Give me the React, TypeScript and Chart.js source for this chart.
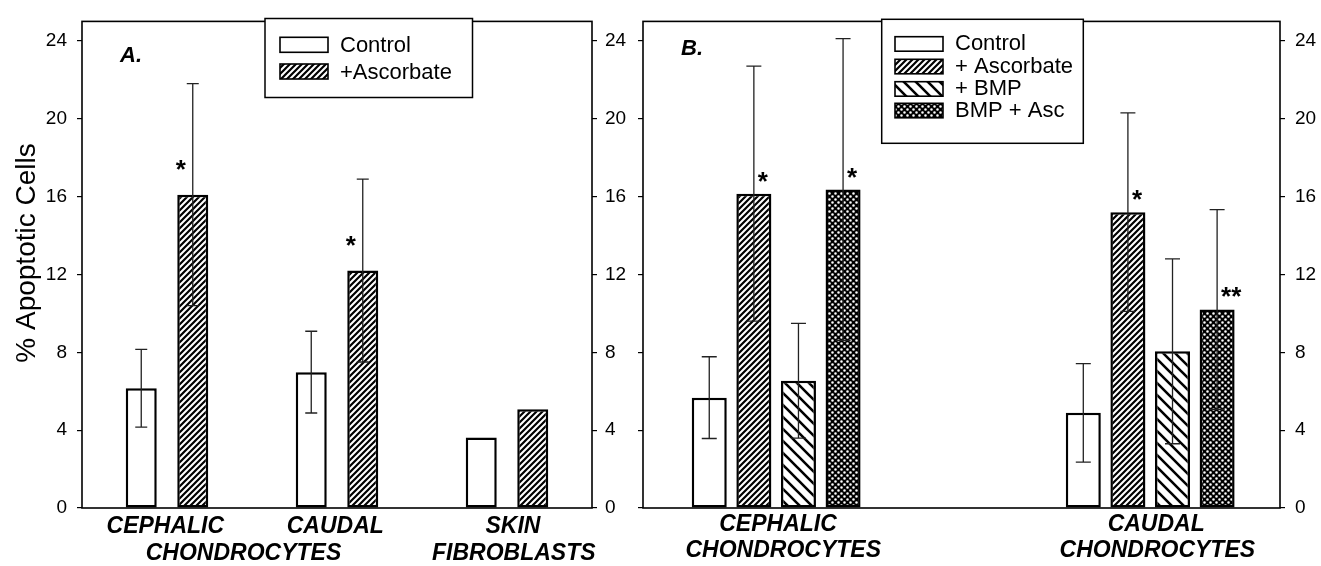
import React, { useEffect, useRef } from "react";
import { Chart, registerables } from "chart.js";

Chart.register(...registerables);

const FONT = "'Liberation Sans', Arial, Helvetica, sans-serif";

// ---------------- DATA ----------------
const yTickValues = [0, 4, 8, 12, 16, 20, 24];

// Panel A
const categoriesA = ["CEPHALIC", "CAUDAL", "SKIN"];
const subCategoriesA = ["CHONDROCYTES", "FIBROBLASTS"];
const seriesNamesA = ["Control", "+Ascorbate"];
const controlA = [6.15, 6.98, 3.62];
const controlErrA = [2.0, 2.1, 0];
const ascorbateA = [16.1, 12.2, 5.07];
const ascorbateErrA = [5.7, 4.7, 0];
const controlStarsA = ["", "", ""];
const ascorbateStarsA = ["*", "*", ""];

// Panel B
const categoriesB = ["CEPHALIC", "CAUDAL"];
const subCategoriesB = ["CHONDROCYTES", "CHONDROCYTES"];
const seriesNamesB = ["Control", "+ Ascorbate", "+ BMP", "BMP + Asc"];
const controlB = [5.67, 4.89];
const controlErrB = [2.1, 2.53];
const ascorbateB = [16.15, 15.2];
const ascorbateErrB = [6.55, 5.1];
const bmpB = [6.54, 8.05];
const bmpErrB = [2.95, 4.75];
const bmpAscB = [16.36, 10.2];
const bmpAscErrB = [7.75, 5.13];
const controlStarsB = ["", ""];
const ascorbateStarsB = ["*", "*"];
const bmpStarsB = ["", ""];
const bmpAscStarsB = ["*", "**"];

// ---------------- PATTERNS ----------------
type PatternKind = "plain" | "fwd" | "back" | "dots";

function makeFill(kind: PatternKind): string | CanvasPattern {
  if (kind === "plain") return "#ffffff";
  const c = document.createElement("canvas");
  const g = c.getContext("2d")!;
  if (kind === "fwd") {
    const s = 6;
    c.width = s;
    c.height = s;
    g.fillStyle = "#fff";
    g.fillRect(0, 0, s, s);
    g.strokeStyle = "#000";
    g.lineWidth = 2.2;
    g.beginPath();
    g.moveTo(-1, s + 1);
    g.lineTo(s + 1, -1);
    g.moveTo(-2, 2);
    g.lineTo(2, -2);
    g.moveTo(s - 2, s + 2);
    g.lineTo(s + 2, s - 2);
    g.stroke();
  } else if (kind === "back") {
    const s = 12;
    c.width = s;
    c.height = s;
    g.fillStyle = "#fff";
    g.fillRect(0, 0, s, s);
    g.strokeStyle = "#000";
    g.lineWidth = 2.6;
    g.beginPath();
    g.moveTo(-1, -1);
    g.lineTo(s + 1, s + 1);
    g.moveTo(s - 2, -2);
    g.lineTo(s + 2, 2);
    g.moveTo(-2, s - 2);
    g.lineTo(2, s + 2);
    g.stroke();
  } else {
    const s = 6;
    c.width = s;
    c.height = s;
    g.fillStyle = "#000";
    g.fillRect(0, 0, s, s);
    g.fillStyle = "#fff";
    g.beginPath();
    g.arc(1.5, 1.5, 1.3, 0, Math.PI * 2);
    g.closePath();
    g.moveTo(5.8, 4.5);
    g.arc(4.5, 4.5, 1.3, 0, Math.PI * 2);
    g.fill();
  }
  return g.createPattern(c, "repeat")!;
}

// ---------------- SPECS ----------------
interface Series {
  name: string;
  values: number[];
  errs: number[];
  stars: string[];
  kind: PatternKind;
}

interface PanelSpec {
  left: number;
  width: number;
  area: { left: number; right: number; top: number; bottom: number };
  xMode: "category" | "linear";
  xMin?: number;
  xMax?: number;
  categories: string[];
  catAnchors: number[];
  sub: { text: string; at: number }[];
  series: Series[];
  categoryPercentage: number;
  barPercentage: number;
  cap: number;
  starSide: "left" | "right";
  starRise: number;
  leftLabels: boolean;
  rightPad: number;
  legend: {
    x: number; y: number; w: number; h: number;
    swX: number; swW: number; swH: number;
    rows: number[]; textX: number; textDy: number;
  };
  title: { text: string; x: number; y: number };
  yTitle?: { text: string; x: number; y: number };
  lines: [number, number];
}

const specA: PanelSpec = {
  left: 0,
  width: 630,
  area: { left: 82, right: 592, top: 14, bottom: 508 },
  xMode: "category",
  categories: categoriesA,
  catAnchors: [-0.01, 0.99, 2.035],
  sub: [
    { text: subCategoriesA[0], at: 0.45 },
    { text: subCategoriesA[1], at: 2.04 },
  ],
  series: [
    { name: seriesNamesA[0], values: controlA, errs: controlErrA, stars: controlStarsA, kind: "plain" },
    { name: seriesNamesA[1], values: ascorbateA, errs: ascorbateErrA, stars: ascorbateStarsA, kind: "fwd" },
  ],
  categoryPercentage: 0.606,
  barPercentage: 0.602,
  cap: 12,
  starSide: "left",
  starRise: 32,
  leftLabels: true,
  rightPad: 8,
  legend: { x: 265, y: 18.5, w: 207.5, h: 79, swX: 280, swW: 48, swH: 15, rows: [37.3, 64], textX: 340, textDy: 14.5 },
  title: { text: "A.", x: 120, y: 61.5 },
  yTitle: { text: "% Apoptotic Cells", x: 35, y: 253 },
  lines: [533, 560],
};

const specB: PanelSpec = {
  left: 630,
  width: 691,
  area: { left: 643, right: 1280, top: 14, bottom: 508 },
  xMode: "linear",
  xMin: 0.644,
  xMax: 2.347,
  categories: categoriesB,
  catAnchors: [1.005, 2.016],
  sub: [
    { text: subCategoriesB[0], at: 1.019 },
    { text: subCategoriesB[1], at: 2.019 },
  ],
  series: [
    { name: seriesNamesB[0], values: controlB, errs: controlErrB, stars: controlStarsB, kind: "plain" },
    { name: seriesNamesB[1], values: ascorbateB, errs: ascorbateErrB, stars: ascorbateStarsB, kind: "fwd" },
    { name: seriesNamesB[2], values: bmpB, errs: bmpErrB, stars: bmpStarsB, kind: "back" },
    { name: seriesNamesB[3], values: bmpAscB, errs: bmpAscErrB, stars: bmpAscStarsB, kind: "dots" },
  ],
  categoryPercentage: 0.477,
  barPercentage: 0.785,
  cap: 15,
  starSide: "right",
  starRise: 19,
  leftLabels: false,
  rightPad: 10,
  legend: { x: 881.7, y: 19.3, w: 201.6, h: 124, swX: 895, swW: 48, swH: 14.5, rows: [36.7, 59.3, 81.7, 103.3], textX: 955, textDy: 13.5 },
  title: { text: "B.", x: 681, y: 55 },
  lines: [531, 557],
};

// ---------------- BUILDER ----------------
function yAxis(position: "left" | "right", showLabels: boolean, width: number, pad: number) {
  return {
    type: "linear",
    position,
    min: 0,
    max: 25,
    afterBuildTicks: (s: any) => {
      s.ticks = yTickValues.map((v) => ({ value: v }));
    },
    afterFit: (s: any) => {
      s.width = width;
    },
    ticks: {
      color: showLabels ? "#000" : "rgba(0,0,0,0)",
      font: { size: 19, family: FONT },
      padding: pad,
    },
    grid: {
      display: true,
      drawOnChartArea: false,
      drawTicks: true,
      tickLength: 5,
      color: "#000",
      lineWidth: 1.2,
    },
    border: { display: false },
  };
}

function buildChart(canvas: HTMLCanvasElement, spec: PanelSpec): Chart {
  const fills = spec.series.map((s) => makeFill(s.kind));
  const ox = spec.left;

  const datasets = spec.series.map((s, di) => ({
    label: s.name,
    data:
      spec.xMode === "category"
        ? s.values
        : s.values.map((v, i) => ({ x: i + 1, y: v })),
    backgroundColor: fills[di] as any,
    borderColor: "#000",
    borderWidth: 2.5,
    borderSkipped: false as any,
    categoryPercentage: spec.categoryPercentage,
    barPercentage: spec.barPercentage,
  }));

  const xScale: any =
    spec.xMode === "category"
      ? { type: "category", display: false, offset: true }
      : {
          type: "linear",
          display: false,
          offset: false,
          min: spec.xMin,
          max: spec.xMax,
          afterBuildTicks: (s: any) => {
            s.ticks = spec.categories.map((_, i) => ({ value: i + 1 }));
          },
        };

  const plugin = {
    id: "panelDecor",
    afterDatasetsDraw(chart: any) {
      const ctx: CanvasRenderingContext2D = chart.ctx;
      const ys = chart.scales.y;
      spec.series.forEach((s, di) => {
        const meta = chart.getDatasetMeta(di);
        meta.data.forEach((el: any, i: number) => {
          const e = s.errs[i];
          const v = s.values[i];
          const x = el.x;
          if (e) {
            const top = ys.getPixelForValue(v + e);
            const bot = ys.getPixelForValue(v - e);
            ctx.save();
            ctx.strokeStyle = "#222";
            ctx.lineWidth = 1.3;
            ctx.beginPath();
            ctx.moveTo(x, top);
            ctx.lineTo(x, bot);
            ctx.moveTo(x - spec.cap / 2, top);
            ctx.lineTo(x + spec.cap / 2, top);
            ctx.moveTo(x - spec.cap / 2, bot);
            ctx.lineTo(x + spec.cap / 2, bot);
            ctx.stroke();
            ctx.restore();
          }
          const star = s.stars[i];
          if (star) {
            ctx.save();
            ctx.fillStyle = "#000";
            ctx.font = `bold 26px ${FONT}`;
            ctx.textBaseline = "alphabetic";
            const cy = el.y - spec.starRise + 15;
            if (spec.starSide === "left") {
              ctx.textAlign = "right";
              ctx.fillText(star, x - 7, cy);
            } else {
              ctx.textAlign = "left";
              ctx.fillText(star, x + 4, cy);
            }
            ctx.restore();
          }
        });
      });
    },
    afterDraw(chart: any) {
      const ctx: CanvasRenderingContext2D = chart.ctx;
      const a = chart.chartArea;
      const xs = chart.scales.x;
      ctx.save();
      // frame
      ctx.strokeStyle = "#000";
      ctx.lineWidth = 1.6;
      ctx.strokeRect(a.left, a.top, a.right - a.left, a.bottom - a.top);

      // legend
      const L = spec.legend;
      ctx.lineWidth = 1.5;
      ctx.fillStyle = "#fff";
      ctx.fillRect(L.x - ox, L.y, L.w, L.h);
      ctx.strokeRect(L.x - ox, L.y, L.w, L.h);
      spec.series.forEach((s, i) => {
        const top = L.rows[i];
        ctx.fillStyle = fills[i] as any;
        ctx.fillRect(L.swX - ox, top, L.swW, L.swH);
        ctx.lineWidth = 1.6;
        ctx.strokeStyle = "#000";
        ctx.strokeRect(L.swX - ox, top, L.swW, L.swH);
        ctx.fillStyle = "#000";
        ctx.font = `22px ${FONT}`;
        ctx.textAlign = "left";
        ctx.textBaseline = "alphabetic";
        ctx.fillText(s.name, L.textX - ox, top + L.textDy);
      });

      // category labels
      ctx.fillStyle = "#000";
      ctx.font = `italic bold 23px ${FONT}`;
      ctx.textAlign = "center";
      ctx.textBaseline = "alphabetic";
      spec.categories.forEach((c, i) => {
        ctx.fillText(c, xs.getPixelForValue(spec.catAnchors[i]), spec.lines[0]);
      });
      spec.sub.forEach((sb) => {
        ctx.fillText(sb.text, xs.getPixelForValue(sb.at), spec.lines[1]);
      });

      // panel title
      ctx.font = `italic bold 22px ${FONT}`;
      ctx.textAlign = "left";
      ctx.fillText(spec.title.text, spec.title.x - ox, spec.title.y);

      // y title
      if (spec.yTitle) {
        ctx.save();
        ctx.translate(spec.yTitle.x - ox, spec.yTitle.y);
        ctx.rotate(-Math.PI / 2);
        ctx.font = `28px ${FONT}`;
        ctx.textAlign = "center";
        ctx.textBaseline = "alphabetic";
        ctx.fillText(spec.yTitle.text, 0, 0);
        ctx.restore();
      }
      ctx.restore();
    },
  };

  return new Chart(canvas, {
    type: "bar",
    data: {
      labels: spec.xMode === "category" ? spec.categories : undefined,
      datasets: datasets as any,
    },
    options: {
      responsive: false,
      animation: false,
      layout: {
        padding: { top: spec.area.top, bottom: 566 - spec.area.bottom, left: 0, right: 0 },
      },
      plugins: {
        legend: { display: false },
        tooltip: { enabled: false },
      },
      scales: {
        x: xScale,
        y: yAxis("left", spec.leftLabels, spec.area.left - spec.left, 10) as any,
        y2: yAxis("right", true, spec.left + spec.width - spec.area.right, spec.rightPad) as any,
      },
    },
    plugins: [plugin],
  });
}

export default function App() {
  const refA = useRef<HTMLCanvasElement>(null);
  const refB = useRef<HTMLCanvasElement>(null);

  useEffect(() => {
    const a = buildChart(refA.current!, specA);
    const b = buildChart(refB.current!, specB);
    return () => {
      a.destroy();
      b.destroy();
    };
  }, []);

  return (
    <div style={{ position: "fixed", left: 0, top: 0, width: 1321, height: 566, background: "#fff" }}>
      <canvas ref={refA} width={specA.width} height={566} style={{ position: "absolute", left: specA.left, top: 0 }} />
      <canvas ref={refB} width={specB.width} height={566} style={{ position: "absolute", left: specB.left, top: 0 }} />
    </div>
  );
}
